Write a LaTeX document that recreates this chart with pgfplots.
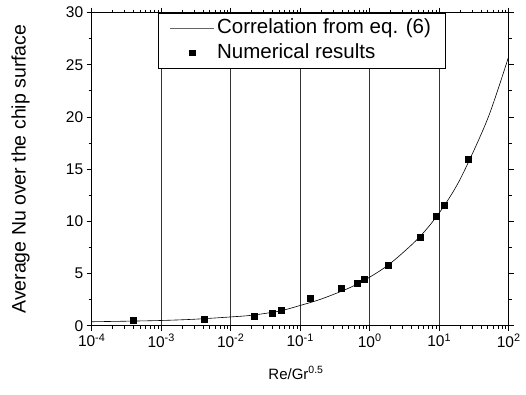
\documentclass[border=0pt]{standalone}
\usepackage{pgfplots}
\pgfplotsset{compat=1.18}
\usepackage{fontspec}
\setmainfont{Liberation Sans}
\begin{document}
\begin{tikzpicture}
\begin{axis}[
  scale only axis,
  width=417pt, height=313.2pt,
  xmode=log,
  xmin=1e-4, xmax=1e2,
  ymin=0, ymax=30,
  xtick={1e-4,1e-3,1e-2,1e-1,1,10,100},
  xticklabels={10\textsuperscript{-4},10\textsuperscript{-3},10\textsuperscript{-2},10\textsuperscript{-1},10\textsuperscript{0},10\textsuperscript{1},10\textsuperscript{2}},
  ytick={0,5,10,15,20,25,30},
  yticklabels={0,5,10,15,20,25,30},
  minor ytick={2.5,7.5,12.5,17.5,22.5,27.5},
  tick align=outside,
  major tick length=5pt,
  minor tick length=3pt,
  every tick/.style={black, line width=0.8pt},
  axis line style={line width=0.8pt},
  xmajorgrids,
  major grid style={black!80, line width=0.7pt},
  xticklabel style={font=\fontsize{15.5}{18}\selectfont},
  yticklabel style={font=\fontsize{15.5}{18}\selectfont},
  xlabel={Re/Gr\textsuperscript{0.5}},
  ylabel={Average Nu over the chip surface},
  xlabel style={font=\fontsize{15}{18}\selectfont, at={(axis description cs:0.49,-0.13)}, anchor=north, inner sep=0pt},
  ylabel style={font=\fontsize{19.5}{22}\selectfont, at={(axis description cs:-0.148,0.5)}, anchor=south, inner sep=0pt},
  legend style={at={(rel axis cs:0.158,1)}, anchor=north west, draw=black, line width=0.8pt,
    inner xsep=12pt, inner ysep=3.5pt, row sep=0.5pt,
    font=\fontsize{20.5}{23}\selectfont,
    nodes={inner sep=2.2pt, text height=15pt, text depth=4.5pt}},
  legend cell align=left,
]
\addplot[black, line width=0.6pt, smooth,
  legend image code/.code={\draw[black!60, line width=0.9pt] (0pt,0pt) -- (44pt,0pt);}]
  coordinates {
  (1e-4,0.38) (3e-4,0.43) (1e-3,0.50) (3e-3,0.62) (1e-2,0.84) (2e-2,1.00)
  (5e-2,1.40) (1e-1,1.94) (2e-1,2.55) (5e-1,3.60) (1,4.65) (2,5.99)
  (5,8.37) (10,10.8) (20,14.03) (50,19.85) (100,25.8)
  };
\addlegendentry{Correlation from eq. (6)}
\addplot[only marks, mark=square*, mark size=3pt, black,
  legend image code/.code={\draw[black, mark size=2.6pt] plot[mark=square*] coordinates {(22pt,0pt)};}]
  coordinates {
  (4.0e-4,0.50) (4.2e-3,0.58) (0.022,0.93) (0.0395,1.2) (0.054,1.45)
  (0.137,2.68) (0.388,3.55) (0.66,4.09) (0.84,4.44) (1.84,5.81)
  (5.25,8.49) (9.1,10.47) (11.7,11.59) (26.3,15.99)
  };
\addlegendentry{Numerical results}
\end{axis}
\pgfresetboundingbox
\path[use as bounding box] (current axis.south west) +(-91.7pt,-68.3pt) rectangle +(434.3pt,325.7pt);
\end{tikzpicture}
\end{document}
